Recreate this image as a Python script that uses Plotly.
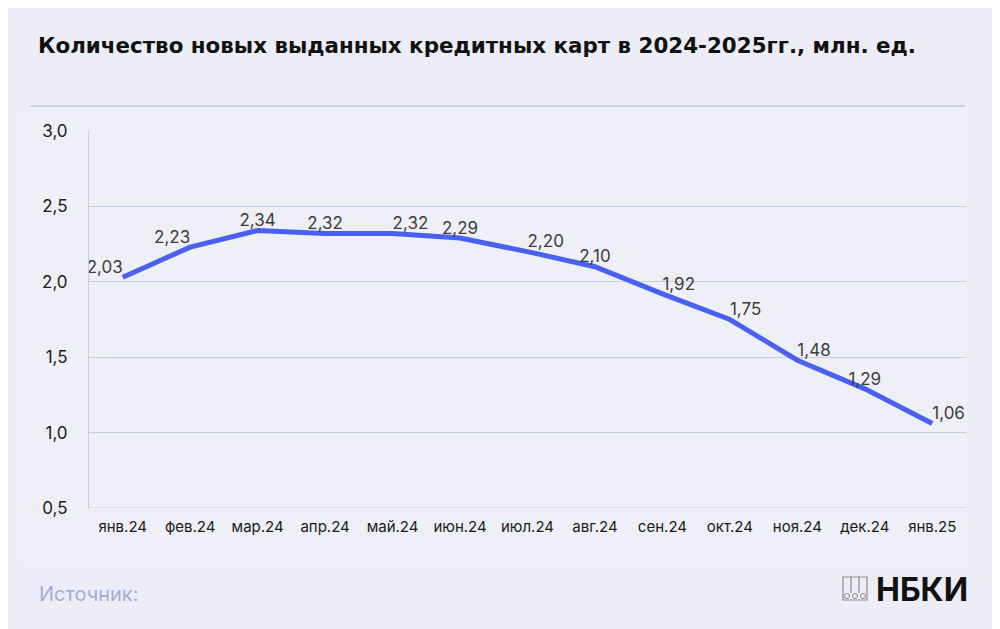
import plotly.graph_objects as go

# data
months = ["янв.24", "фев.24", "мар.24", "апр.24", "май.24", "июн.24", "июл.24",
          "авг.24", "сен.24", "окт.24", "ноя.24", "дек.24", "янв.25"]
cards_mln = [2.03, 2.23, 2.34, 2.32, 2.32, 2.29, 2.20, 2.10, 1.92, 1.75, 1.48, 1.29, 1.06]
y_ticks = [0.5, 1.0, 1.5, 2.0, 2.5, 3.0]

label_pos = ["top left", "top left", "top center", "top center", "top right", "top center",
             "top right", "top center", "top right", "top right", "top right", "top center",
             "top right"]

FONT = "Inter"
BG = "#ECEDF6"
GRID = "#C9CBE4"

# the page puts the figure 8px in from the top-left corner
OFF = 8
FW, FH = 1000 - OFF, 629 - OFF

# plot area in page pixels (used for decorations only)
L, R, T, B = 89, 966, 131, 508
W, H = R - L, B - T


def px(x):
    return (x - L) / W


def py(y):
    return (B - y) / H


fig = go.Figure()
fig.add_trace(go.Scatter(
    x=months, y=cards_mln,
    mode="lines+text",
    line=dict(color="#4961F2", width=5),
    texttemplate="%{y:.2f}",
    textposition=label_pos,
    textfont=dict(family=FONT, size=17, color="#3c3c3c"),
    cliponaxis=False,
    hoverinfo="skip",
))

shapes = [
    # light panel behind the chart
    dict(type="rect", xref="paper", yref="paper", layer="below",
         x0=px(22), x1=px(966), y0=py(563), y1=py(110),
         fillcolor="#EEEFF7", line=dict(width=0)),
    # separator under the title
    dict(type="line", xref="paper", yref="paper",
         x0=px(30), x1=px(965), y0=py(106), y1=py(106),
         line=dict(color="#C6C8DC", width=1.5)),
    # logo icon
    dict(type="rect", xref="paper", yref="paper",
         x0=px(843), x1=px(867), y0=py(600), y1=py(577),
         line=dict(color="#8a8a8a", width=1.2)),
    dict(type="line", xref="paper", yref="paper",
         x0=px(851), x1=px(851), y0=py(593), y1=py(577),
         line=dict(color="#8a8a8a", width=1.2)),
    dict(type="line", xref="paper", yref="paper",
         x0=px(859), x1=px(859), y0=py(593), y1=py(577),
         line=dict(color="#8a8a8a", width=1.2)),
]
for cx in (847, 855, 863):
    shapes.append(dict(type="circle", xref="paper", yref="paper",
                       x0=px(cx - 2.5), x1=px(cx + 2.5), y0=py(598.5), y1=py(593.5),
                       line=dict(color="#8a8a8a", width=1)))

annotations = [
    dict(text="Источник:", xref="paper", yref="paper", x=px(37), y=py(594),
         xanchor="left", yanchor="middle", showarrow=False,
         font=dict(family=FONT, size=20, color="#A8AAD3")),
    dict(text="<b>НБКИ</b>", xref="paper", yref="paper", x=px(970), y=py(589),
         xanchor="right", yanchor="middle", showarrow=False,
         font=dict(family=FONT, size=32, color="#111111")),
]

fig.update_layout(
    width=FW, height=FH,
    margin=dict(l=L - OFF, r=1000 - R, t=T - OFF, b=629 - B),
    paper_bgcolor=BG, plot_bgcolor="#EEEFF7",
    separators=", ",
    showlegend=False,
    title=dict(text="<b>Количество новых выданных кредитных карт в 2024-2025гг., млн. ед.</b>",
               x=(38 - OFF) / FW, xref="container", xanchor="left",
               y=1 - (46 - OFF) / FH, yref="container", yanchor="middle",
               font=dict(family="DejaVu Sans", size=21.4, color="#111111")),
    shapes=shapes,
    annotations=annotations,
)
fig.update_xaxes(
    type="category", range=[-0.5, len(months) - 0.5],
    showgrid=False, showline=False, zeroline=False, ticks="",
    tickfont=dict(family=FONT, size=15, color="#1a1a1a"),
    ticklabelstandoff=8,
)
fig.update_yaxes(
    range=[0.5, 3.0], tickvals=y_ticks, tickformat=".1f",
    showgrid=True, gridcolor=GRID, gridwidth=1,
    showline=True, linecolor=GRID, linewidth=1,
    zeroline=False, ticks="",
    tickfont=dict(family=FONT, size=17, color="#1a1a1a"),
    ticklabelstandoff=17,
)
# bottom border line at 0.5
fig.add_hline(y=0.5, line=dict(color=GRID, width=1))

fig.write_html("out.html")
